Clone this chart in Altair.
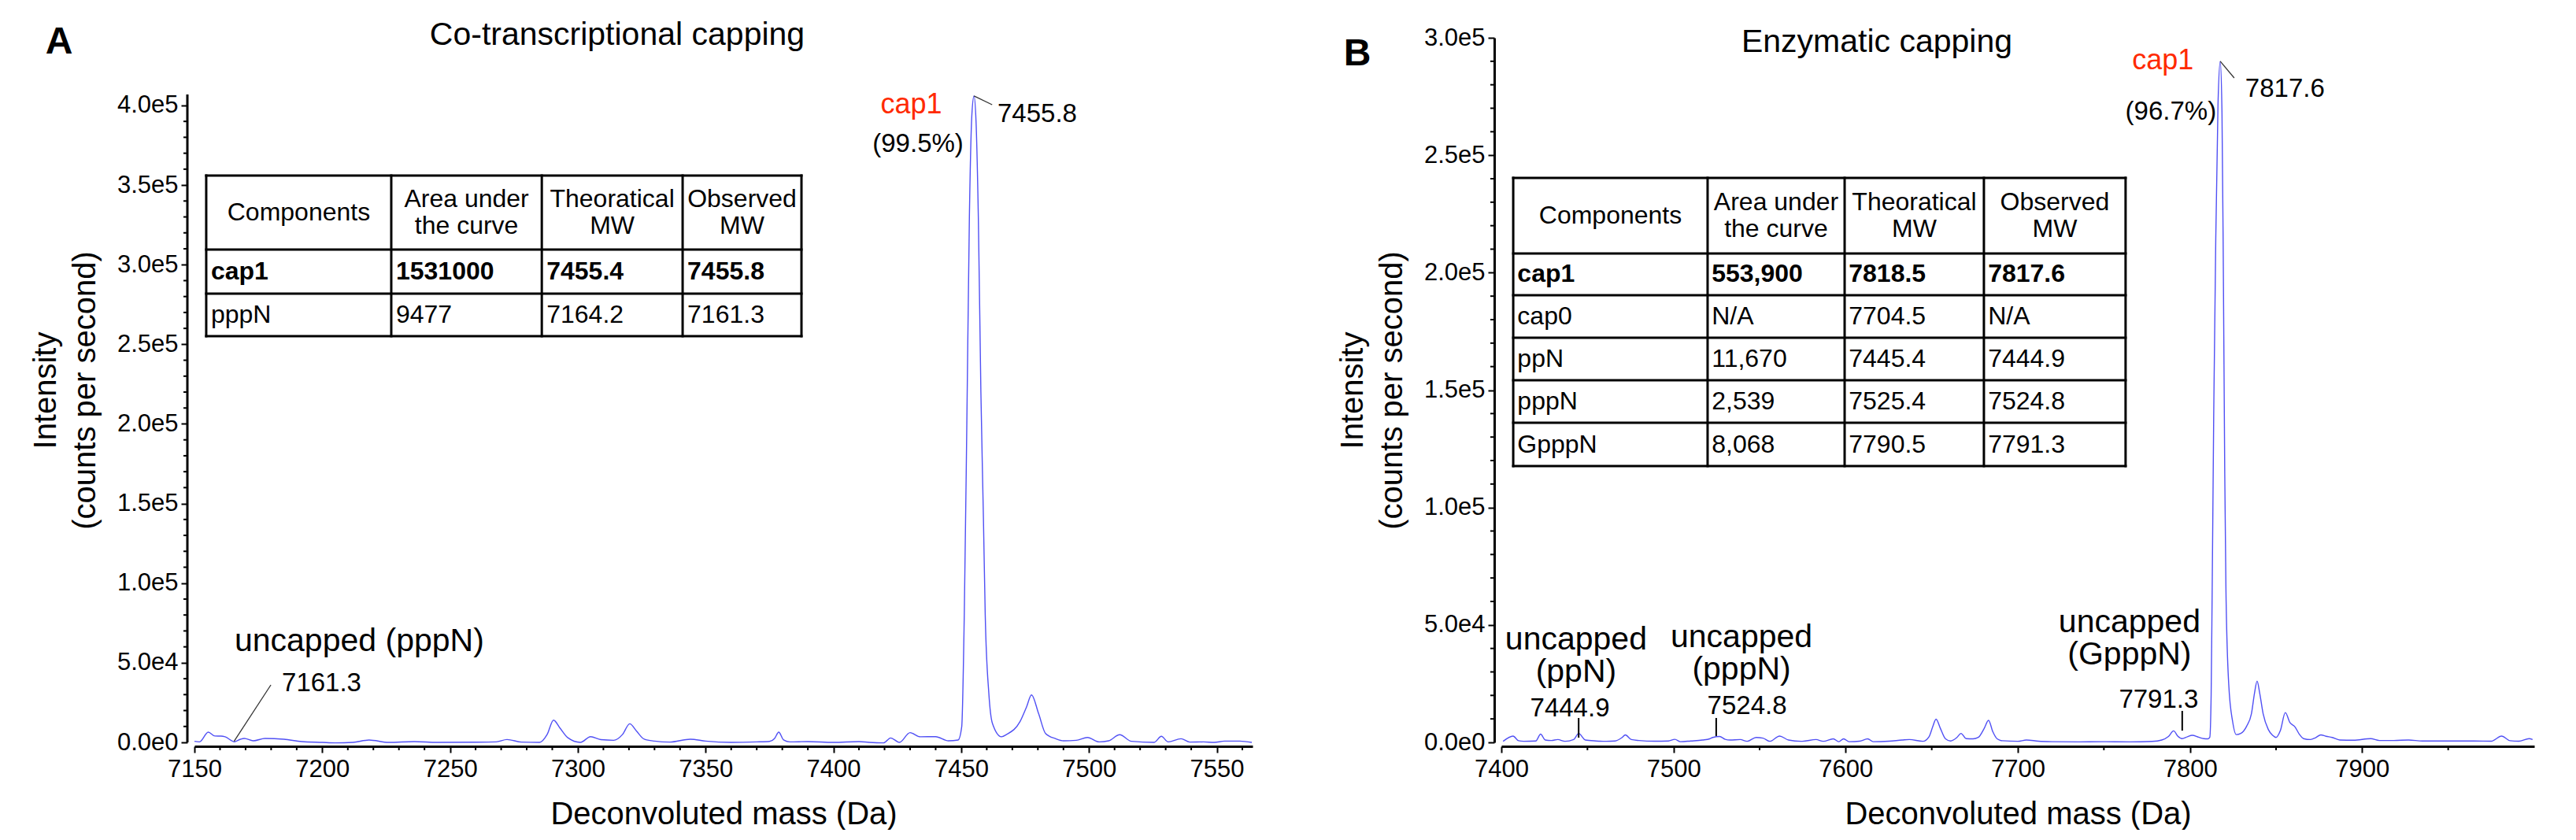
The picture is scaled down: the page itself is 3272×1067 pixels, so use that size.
import altair as alt
import pandas as pd

FONT = "Liberation Sans"
LINE = "#5050f4"
RED = "#ff2a00"

# ---------------- Panel A spectrum (Deconvoluted mass, Da / intensity, cps) -------------
A_MASS = [7150.0, 7152.0, 7155.4, 7158.0, 7160.4, 7162.0, 7165.7, 7168.0, 7169.5, 7173.0,
          7177.6, 7185.0, 7192.0, 7200.0, 7205.0, 7212.0, 7218.3, 7226.0, 7236.0, 7245.0,
          7260.0, 7268.0, 7272.3, 7278.0, 7285.0, 7288.0, 7290.5, 7293.0, 7296.0, 7301.0,
          7305.0, 7309.0, 7314.0, 7317.5, 7320.3, 7323.0, 7326.0, 7330.0, 7336.0, 7344.0,
          7350.0, 7360.0, 7370.0, 7375.0, 7377.0, 7378.6, 7380.5, 7383.0, 7390.0, 7400.0,
          7410.0, 7414.0, 7419.6, 7422.4, 7425.8, 7430.0, 7434.0, 7440.0, 7445.0, 7448.8,
          7450.2, 7451.2, 7452.2, 7453.2, 7454.2, 7455.0, 7455.8, 7456.7, 7457.7, 7458.7,
          7459.4, 7460.8, 7462.2, 7465.8, 7467.8, 7473.0, 7475.5, 7477.5, 7480.3, 7483.0,
          7487.0, 7490.0, 7495.0, 7499.4, 7504.0, 7507.7, 7512.0, 7516.6, 7525.5, 7528.3,
          7531.0, 7536.0, 7539.4, 7544.8, 7549.0, 7553.0, 7559.0, 7563.7]
A_INT = [700, 300, 6400, 4000, 3950, 3500, 400, 2000, 2500, 1000,
         2500, 2000, 500, 0, -300, 0, 1500, 0, 500, 0,
         100, 300, 1800, 200, 0, 5000, 14000, 9000, 3000, 0,
         3600, 1700, 1300, 5000, 11700, 7000, 2000, 800, 200, 2000,
         800, 0, 300, 600, 2500, 6400, 1500, 300, 500, 0,
         500, 0, -300, 2800, 0, 6100, 3500, 3600, 1000, 1500,
         9800, 80000, 200000, 330000, 395000, 406000, 390000, 330000, 220000, 140000,
         80000, 31000, 12000, 3500, 5000, 13000, 22000, 29800, 18000, 5600,
         2300, 1000, 1300, 3100, 300, 1000, 4800, 700, 0, 3800,
         300, 2300, 200, 300, 0, 800, 800, 0]

# ---------------- Panel B spectrum -------------
B_MASS = [7401.0, 7406.8, 7410.0, 7413.0, 7420.0, 7422.8, 7425.5, 7429.0, 7432.8, 7437.0,
          7442.0, 7444.9, 7448.8, 7455.0, 7461.0, 7466.0, 7470.0, 7472.0, 7475.5, 7480.0,
          7489.0, 7497.0, 7500.8, 7504.0, 7510.0, 7516.8, 7521.0, 7522.8, 7526.8, 7530.0,
          7532.8, 7538.8, 7542.8, 7548.0, 7552.0, 7556.0, 7561.6, 7566.8, 7574.8, 7582.8,
          7587.0, 7592.8, 7596.0, 7598.8, 7602.0, 7608.0, 7612.8, 7616.0, 7625.0, 7632.8,
          7637.0, 7644.8, 7648.5, 7650.5, 7652.5, 7655.0, 7658.0, 7661.0, 7664.5, 7667.0,
          7670.0, 7674.0, 7677.0, 7680.5, 7683.0, 7685.5, 7688.0, 7691.0, 7700.0, 7705.0,
          7712.0, 7720.0, 7735.0, 7750.0, 7765.0, 7778.0, 7783.6, 7787.5, 7790.5, 7793.0,
          7795.4, 7798.5, 7801.3, 7805.0, 7808.0, 7810.5, 7811.5, 7812.3, 7812.9, 7813.8,
          7815.0, 7816.3, 7817.6, 7818.6, 7819.4, 7820.2, 7820.9, 7822.5, 7824.8, 7826.9,
          7829.5, 7833.0, 7835.7, 7837.5, 7839.0, 7840.5, 7842.5, 7845.5, 7848.0, 7850.0,
          7852.5, 7855.4, 7858.0, 7861.0, 7863.5, 7866.0, 7870.0, 7873.0, 7876.0, 7879.0,
          7882.6, 7887.0, 7895.0, 7905.0, 7910.0, 7918.4, 7927.0, 7935.0, 7950.0, 7965.0,
          7975.0, 7981.0, 7986.0, 7991.0, 7997.0, 7999.0]
B_INT = [450, 2700, 700, 450, 600, 3500, 1000, 800, 1200, 450,
         1200, 3800, 1000, 600, 450, 600, 2000, 3200, 1200, 800,
         500, 600, 1300, 300, 600, 1000, 1500, 2100, 2500, 1300,
         1000, 1200, 450, 2100, 1800, 450, 2700, 1000, 450, 1200,
         450, 1500, 300, 1500, 300, 500, 1500, 300, 500, 1000,
         1200, 450, 2500, 6500, 9900, 6000, 1500, 600, 2000, 3800,
         1600, 1500, 2100, 6000, 9400, 4500, 1500, 700, 450, 1000,
         500, 300, 200, 300, 200, 400, 1000, 2500, 4900, 2600,
         1600, 2400, 3000, 2200, 1600, 1500, 2100, 20000, 64700, 140000,
         215000, 272000, 290000, 268000, 200000, 115000, 65000, 25000, 8800, 3300,
         3800, 7000, 12200, 21000, 26100, 21000, 12200, 5500, 3000, 2100,
         5000, 12700, 8500, 6600, 3500, 1600, 1200, 2000, 3200, 2600,
         2100, 1000, 900, 1600, 800, 800, 1000, 600, 600, 600,
         500, 2700, 700, 500, 1600, 1200]

# ---------------- Tables -------------
HEADER_LINE1 = ["Components", "Area under", "Theoratical", "Observed"]
HEADER_LINE2 = ["", "the curve", "MW", "MW"]
A_COMPONENTS = ["cap1", "pppN"]
A_AREA = ["1531000", "9477"]
A_THEO = ["7455.4", "7164.2"]
A_OBS = ["7455.8", "7161.3"]
B_COMPONENTS = ["cap1", "cap0", "ppN", "pppN", "GpppN"]
B_AREA = ["553,900", "N/A", "11,670", "2,539", "8,068"]
B_THEO = ["7818.5", "7704.5", "7445.4", "7525.4", "7790.5"]
B_OBS = ["7817.6", "N/A", "7444.9", "7524.8", "7791.3"]

# ---------------- Peak annotations (text) -------------
A_CAP_LABEL = ["cap1", "(99.5%)"]
A_PEAK_MASS = ["7455.8", "7161.3"]
A_UNCAPPED = ["uncapped (pppN)"]
B_CAP_LABEL = ["cap1", "(96.7%)"]
B_PEAK_MASS = ["7817.6", "7444.9", "7524.8", "7791.3"]
B_UNCAPPED = ["uncapped\n(ppN)", "uncapped\n(pppN)", "uncapped\n(GpppN)"]

# ---------------- Layout (data-unit anchors, kept apart from values) -------------
A_XDOM = [7150, 7564]
A_YDOM = [0, 442500]
B_XDOM = [7400, 8000]
B_YDOM = [0, 300000]
A_W, B_W, H = 1344, 1312, 895

A_XMAJOR = list(range(7150, 7551, 50))
A_XMINOR = [v for v in range(7160, 7561, 10) if v % 50]
A_YMAJOR = list(range(0, 400001, 50000))
A_YMINOR = [v for v in range(10000, 400001, 10000) if v % 50000]
B_XMAJOR = list(range(7400, 7901, 100))
B_XMINOR = list(range(7450, 7951, 100))
B_YMAJOR = list(range(0, 300001, 50000))
B_YMINOR = [v for v in range(10000, 300001, 10000) if v % 50000]

A_TABLE_COLS = [7154.6, 7227.0, 7285.9, 7341.0, 7387.5]
A_TABLE_ROWS = [355980, 309500, 281810, 255120]
B_TABLE_COLS = [7406.9, 7519.8, 7599.4, 7680.3, 7762.6]
B_TABLE_ROWS = [240340, 208160, 190390, 172290, 154190, 136090, 117650]

A_CAP_POS = [(7430.5, 395000), (7433.1, 370800)]
A_PEAK_POS = [(7464.2, 389600), (7184.2, 32140)]
A_UNCAP_POS = [(7165.7, 57350)]
A_LEADERS = [(7455.0, 406000, 7462.1, 400470), (7165.5, 700, 7179.9, 36090)]

B_CAP_POS = [(7784.3, 286600), (7788.9, 265100)]
B_PEAK_POS = [(7832.1, 274900), (7439.8, 11060), (7542.7, 12070), (7781.8, 14750)]
B_UNCAP_POS = [(7443.4, 39550), (7539.5, 40560), (7764.9, 46930)]
B_LEADERS = [(7817.6, 290000, 7825.7, 282900)]
B_TICKS = [(7444.9, 2000, 7444.9, 10400), (7524.8, 2700, 7524.8, 10400), (7795.5, 5000, 7795.5, 13400)]

X_OFF, Y_OFF = 5, 9


def X(field, dom):
    return alt.X(f"{field}:Q", scale=alt.Scale(domain=dom, nice=False, zero=False))


def Y(field, dom):
    return alt.Y(f"{field}:Q", scale=alt.Scale(domain=dom, nice=False, zero=False))


def x_axis(values):
    return alt.Axis(
        values=values, title="Deconvoluted mass (Da)", format="d", tickSize=8,
        offset=X_OFF, grid=False, labelFontSize=31, titleFontSize=40, labelPadding=6,
        titlePadding=22, domainWidth=3, tickWidth=2, labelOverlap=False, labelFlush=False,
        titleFontWeight="normal")


def y_axis(values, draw_domain):
    return alt.Axis(
        values=values, title=["Intensity", "(counts per second)"],
        labelExpr="replace(format(datum.value, '.1e'), '+', '')", tickSize=8,
        offset=Y_OFF, grid=False, labelFontSize=31, titleFontSize=40, titleLineHeight=50,
        labelPadding=4, titlePadding=20, domain=draw_domain, domainWidth=3, tickWidth=2,
        labelOverlap=False, labelFlush=False, titleFontWeight="normal")


def minor_x(values, dom):
    df = pd.DataFrame({"v": values})
    return alt.Chart(df).mark_rule(color="black", strokeWidth=2).encode(
        x=X("v", dom), y=alt.value(H + X_OFF), y2=alt.value(H + X_OFF + 5))


def minor_y(values, dom):
    df = pd.DataFrame({"v": values})
    return alt.Chart(df).mark_rule(color="black", strokeWidth=2).encode(
        y=Y("v", dom), x=alt.value(-Y_OFF), x2=alt.value(-Y_OFF - 5))


def texts(pos, labels, xdom, ydom, **kw):
    df = pd.DataFrame({"x": [p[0] for p in pos], "y": [p[1] for p in pos], "t": labels})
    kw.setdefault("baseline", "alphabetic")
    return alt.Chart(df).mark_text(font=FONT, **kw).encode(
        x=X("x", xdom), y=Y("y", ydom), text="t:N")


def segments(segs, xdom, ydom, **kw):
    df = pd.DataFrame(segs, columns=["x", "y", "x2", "y2"])
    return alt.Chart(df).mark_rule(**kw).encode(
        x=X("x", xdom), y=Y("y", ydom), x2="x2:Q", y2="y2:Q")


def table(cols, rows, comps, area, theo, obs, pad, xdom, ydom):
    lines = [(cols[0], r, cols[-1], r) for r in rows] + [(c, rows[0], c, rows[-1]) for c in cols]
    layers = [segments(lines, xdom, ydom, color="black", strokeWidth=3, strokeCap="square")]
    hx = [(cols[i] + cols[i + 1]) / 2 for i in range(4)]
    hy = (rows[0] + rows[1]) / 2
    style = dict(fontSize=32, align="center", baseline="middle", color="black")
    layers.append(texts([(hx[0], hy)], HEADER_LINE1[:1], xdom, ydom, **style))
    layers.append(texts([(x, hy) for x in hx[1:]], HEADER_LINE1[1:], xdom, ydom, dy=-17, **style))
    layers.append(texts([(x, hy) for x in hx[1:]], HEADER_LINE2[1:], xdom, ydom, dy=17, **style))
    body = [comps, area, theo, obs]
    for r in range(len(comps)):
        ry = (rows[r + 1] + rows[r + 2]) / 2
        pos = [(cols[c] + pad, ry) for c in range(4)]
        labels = [body[c][r] for c in range(4)]
        layers.append(texts(pos, labels, xdom, ydom, fontSize=32, align="left",
                            baseline="middle", color="black",
                            fontWeight="bold" if r == 0 else "normal"))
    return layers


def pixel_text(label, x, y, **kw):
    return alt.Chart(pd.DataFrame({"t": [label]})).mark_text(
        font=FONT, baseline="alphabetic", **kw).encode(
        text="t:N", x=alt.value(x), y=alt.value(y))


# ---------------- Panel A -------------
a_df = pd.DataFrame({"mass": A_MASS, "intensity": A_INT})
a_line = alt.Chart(a_df).mark_line(color=LINE, strokeWidth=1.4, interpolate="monotone").encode(
    x=alt.X("mass:Q", scale=alt.Scale(domain=A_XDOM, nice=False, zero=False),
            axis=x_axis(A_XMAJOR)),
    y=alt.Y("intensity:Q", scale=alt.Scale(domain=A_YDOM, nice=False, zero=False),
            axis=y_axis(A_YMAJOR, False)),
)
a_yline = alt.Chart(pd.DataFrame({"y": [0], "y2": [406900]})).mark_rule(
    color="black", strokeWidth=3).encode(x=alt.value(-Y_OFF), y=Y("y", A_YDOM), y2="y2:Q")
a_anchor = alt.Chart(pd.DataFrame({"t": [""]})).mark_rule(opacity=0).encode(
    x=alt.value(-239), x2=alt.value(-238), y=alt.value(-40))

panel_a = alt.layer(
    a_line, a_anchor, a_yline, minor_x(A_XMINOR, A_XDOM), minor_y(A_YMINOR, A_YDOM),
    segments(A_LEADERS, A_XDOM, A_YDOM, color="#333333", strokeWidth=1.3),
    texts(A_CAP_POS[:1], A_CAP_LABEL[:1], A_XDOM, A_YDOM, fontSize=36, color=RED, align="center"),
    texts(A_CAP_POS[1:], A_CAP_LABEL[1:], A_XDOM, A_YDOM, fontSize=33, color="black", align="center"),
    texts(A_PEAK_POS, A_PEAK_MASS, A_XDOM, A_YDOM, fontSize=33, color="black", align="left"),
    texts(A_UNCAP_POS, A_UNCAPPED, A_XDOM, A_YDOM, fontSize=41, color="black", align="left"),
    *table(A_TABLE_COLS, A_TABLE_ROWS, A_COMPONENTS, A_AREA, A_THEO, A_OBS, 1.85, A_XDOM, A_YDOM),
    pixel_text("A", -172, 20, fontSize=48, fontWeight="bold", align="center", color="black"),
    pixel_text("Co-transcriptional capping", 537, 9, fontSize=41, align="center", color="black"),
).properties(width=A_W, height=H)

# ---------------- Panel B -------------
b_df = pd.DataFrame({"mass": B_MASS, "intensity": B_INT})
b_line = alt.Chart(b_df).mark_line(color=LINE, strokeWidth=1.4, interpolate="monotone").encode(
    x=alt.X("mass:Q", scale=alt.Scale(domain=B_XDOM, nice=False, zero=False),
            axis=x_axis(B_XMAJOR)),
    y=alt.Y("intensity:Q", scale=alt.Scale(domain=B_YDOM, nice=False, zero=False),
            axis=y_axis(B_YMAJOR, True)),
)

panel_b = alt.layer(
    b_line, minor_x(B_XMINOR, B_XDOM), minor_y(B_YMINOR, B_YDOM),
    segments(B_LEADERS, B_XDOM, B_YDOM, color="#333333", strokeWidth=1.3),
    segments(B_TICKS, B_XDOM, B_YDOM, color="black", strokeWidth=2),
    texts(B_CAP_POS[:1], B_CAP_LABEL[:1], B_XDOM, B_YDOM, fontSize=36, color=RED, align="center"),
    texts(B_CAP_POS[1:], B_CAP_LABEL[1:], B_XDOM, B_YDOM, fontSize=33, color="black", align="center"),
    texts(B_PEAK_POS[:1], B_PEAK_MASS[:1], B_XDOM, B_YDOM, fontSize=33, color="black", align="left"),
    texts(B_PEAK_POS[1:], B_PEAK_MASS[1:], B_XDOM, B_YDOM, fontSize=33, color="black", align="center"),
    texts(B_UNCAP_POS, B_UNCAPPED, B_XDOM, B_YDOM, fontSize=41, color="black", align="center",
          lineBreak="\n", lineHeight=41),
    *table(B_TABLE_COLS, B_TABLE_ROWS, B_COMPONENTS, B_AREA, B_THEO, B_OBS, 2.4, B_XDOM, B_YDOM),
    pixel_text("B", -183, 35, fontSize=48, fontWeight="bold", align="center", color="black"),
    pixel_text("Enzymatic capping", 477, 18, fontSize=41, align="center", color="black"),
).properties(width=B_W, height=H)

chart = alt.hconcat(panel_a, panel_b, spacing=316, bounds="flush").properties(
    padding=0
).configure_view(stroke=None).configure_axis(
    labelFont=FONT, titleFont=FONT, labelColor="black", titleColor="black",
    tickColor="black", domainColor="black"
)

chart.save("out.html", embed_options={"renderer": "svg", "actions": False})
